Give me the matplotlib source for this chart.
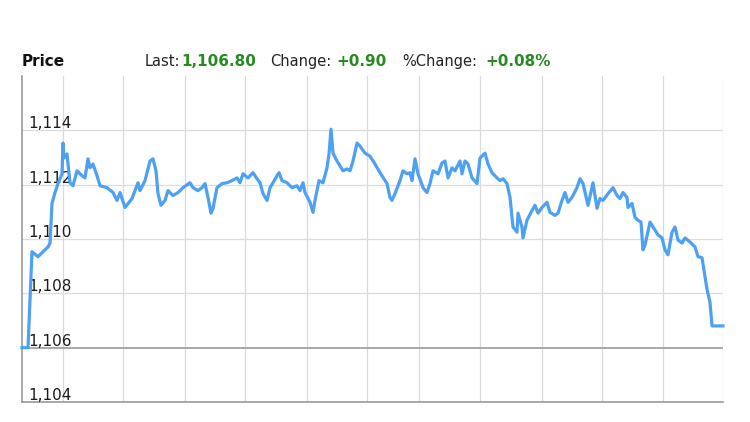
import matplotlib
matplotlib.use("Agg")
import matplotlib.pyplot as plt

# minutes since the open
minutes = [
    0, 6, 10, 16, 21, 26, 28, 30, 33, 36, 40, 41, 42, 45, 46, 48, 51, 55, 60, 63,
    66, 68, 71, 75, 78, 85, 91, 95, 98, 103, 110, 116, 118, 123, 128, 131, 134, 136, 139, 143,
    146, 151, 156, 161, 168, 171, 176, 180, 183, 186, 189, 191, 195, 200, 205, 210, 215, 218, 221, 226,
    231, 235, 238, 241, 245, 248, 251, 255, 257, 260, 265, 270, 275, 278, 281, 283, 288, 291, 293, 297,
    301, 305, 307, 309, 311, 315, 318, 321, 325, 328, 331, 335, 338, 343, 348, 353, 358, 365, 368, 370,
    373, 378, 381, 385, 388, 390, 393, 396, 401, 405, 408, 411, 416, 420, 423, 426, 430, 433, 438, 440,
    443, 446, 450, 455, 458, 463, 466, 470, 475, 478, 481, 485, 488, 491, 495, 496, 500, 501, 505, 510,
    513, 516, 520, 525, 528, 533, 536, 540, 543, 546, 550, 555, 558, 561, 566, 571, 575, 578, 581, 586,
    591, 595, 598, 601, 605, 606, 610, 613, 616, 619, 621, 623, 628, 633, 636, 640, 643, 646, 650, 653,
    656, 660, 663, 668, 673, 676, 680, 683, 685, 688, 690, 701,
]
price = [
    1106.00, 1106.00, 1109.53, 1109.35, 1109.53, 1109.71, 1109.85, 1111.31, 1111.71, 1112.04,
    1112.40, 1113.53, 1112.98, 1113.13, 1112.76, 1112.07, 1111.96, 1112.51, 1112.33, 1112.25,
    1112.95, 1112.62, 1112.76, 1112.33, 1111.96, 1111.89, 1111.71, 1111.42, 1111.71, 1111.16,
    1111.49, 1112.07, 1111.78, 1112.15, 1112.87, 1112.95, 1112.51, 1111.67, 1111.24, 1111.42,
    1111.78, 1111.60, 1111.71, 1111.89, 1112.07, 1111.89, 1111.78, 1111.89, 1112.04, 1111.53,
    1110.95, 1111.13, 1111.89, 1112.04, 1112.07, 1112.15, 1112.25, 1112.07, 1112.40, 1112.25,
    1112.44, 1112.22, 1112.07, 1111.67, 1111.42, 1111.89, 1112.07, 1112.33, 1112.44, 1112.15,
    1112.07, 1111.89, 1111.96, 1111.78, 1112.07, 1111.71, 1111.35, 1110.98, 1111.42, 1112.15,
    1112.07, 1112.62, 1113.13, 1114.04, 1113.16, 1112.87, 1112.69, 1112.51, 1112.58, 1112.51,
    1112.87, 1113.53, 1113.42, 1113.16, 1113.05, 1112.76, 1112.44, 1112.04, 1111.53, 1111.42,
    1111.67, 1112.15, 1112.51, 1112.40, 1112.44, 1112.15, 1112.95, 1112.40, 1111.89, 1111.71,
    1112.04, 1112.51, 1112.40, 1112.80, 1112.87, 1112.25, 1112.62, 1112.51, 1112.87, 1112.40,
    1112.87, 1112.76, 1112.25, 1112.04, 1112.98, 1113.16, 1112.76, 1112.44, 1112.25, 1112.15,
    1112.22, 1112.04, 1111.53, 1110.44, 1110.25, 1110.95, 1110.44, 1110.04, 1110.69, 1111.05,
    1111.24, 1110.95, 1111.16, 1111.35, 1110.98, 1110.87, 1110.95, 1111.42, 1111.71, 1111.35,
    1111.53, 1111.89, 1112.22, 1112.04, 1111.24, 1112.07, 1111.13, 1111.49, 1111.42, 1111.67,
    1111.89, 1111.60, 1111.49, 1111.71, 1111.53, 1111.16, 1111.31, 1110.80, 1110.69, 1110.62,
    1109.60, 1109.78, 1110.62, 1110.33, 1110.15, 1110.04, 1109.60, 1109.42, 1110.25, 1110.44,
    1109.96, 1109.85, 1110.04, 1109.89, 1109.71, 1109.35, 1109.31, 1108.62, 1108.15, 1107.67,
    1106.80, 1106.80,
]

y_ticks = [1104, 1106, 1108, 1110, 1112, 1114]
y_tick_labels = ["1,104", "1,106", "1,108", "1,110", "1,112", "1,114"]
x_grid = [41, 101, 163, 223, 285, 345, 397, 458, 520, 580, 641, 701]
prev_close = 1106

header_items = [
    ("Price", "#111111", "bold"),
    ("Last:", "#222222", "normal"),
    ("1,106.80", "#2a8a22", "bold"),
    ("Change:", "#222222", "normal"),
    ("+0.90", "#2a8a22", "bold"),
    ("%Change:", "#222222", "normal"),
    ("+0.08%", "#2a8a22", "bold"),
]
header_x = [22, 145, 181, 270, 336, 402, 485]

fig = plt.figure(figsize=(7.5, 4.22), dpi=100)
ax = fig.add_axes([22 / 750, 20 / 422, 701 / 750, 326 / 422])

ax.plot(minutes, price, color="#4da0f2", linewidth=2.3, zorder=4,
        solid_joinstyle="round", clip_on=False)

for x in x_grid:
    ax.axvline(x, color="#d9d9d9", linewidth=0.9, zorder=1)
for y in y_ticks[1:]:
    if y == prev_close:
        ax.axhline(y, color="#a8a8a8", linewidth=1.4, zorder=2)
    else:
        ax.axhline(y, color="#dcdcdc", linewidth=0.9, zorder=1)

for y, lab in zip(y_ticks, y_tick_labels):
    ax.annotate(lab, xy=(0, y), xycoords=("axes fraction", "data"),
                xytext=(4.5, 1.5), textcoords="offset points",
                ha="left", va="baseline", fontsize=11, color="#1a1a1a",
                family="DejaVu Sans", zorder=3)

ax.set_xlim(0, 701)
ax.set_ylim(1104, 1116)
ax.set_xticks([])
ax.set_yticks([])
for side in ["top", "right"]:
    ax.spines[side].set_visible(False)
ax.spines["left"].set_color("#9a9a9a")
ax.spines["bottom"].set_color("#9a9a9a")
ax.spines["left"].set_linewidth(1.2)
ax.spines["bottom"].set_linewidth(1.2)

for (txt, col, wt), x in zip(header_items, header_x):
    fig.text(x / 750, 1 - 66 / 422, txt, color=col, fontweight=wt,
             fontsize=11 if wt == "bold" else 10.5,
             family="DejaVu Sans", ha="left", va="baseline")

fig.savefig("out.png", dpi=100)
